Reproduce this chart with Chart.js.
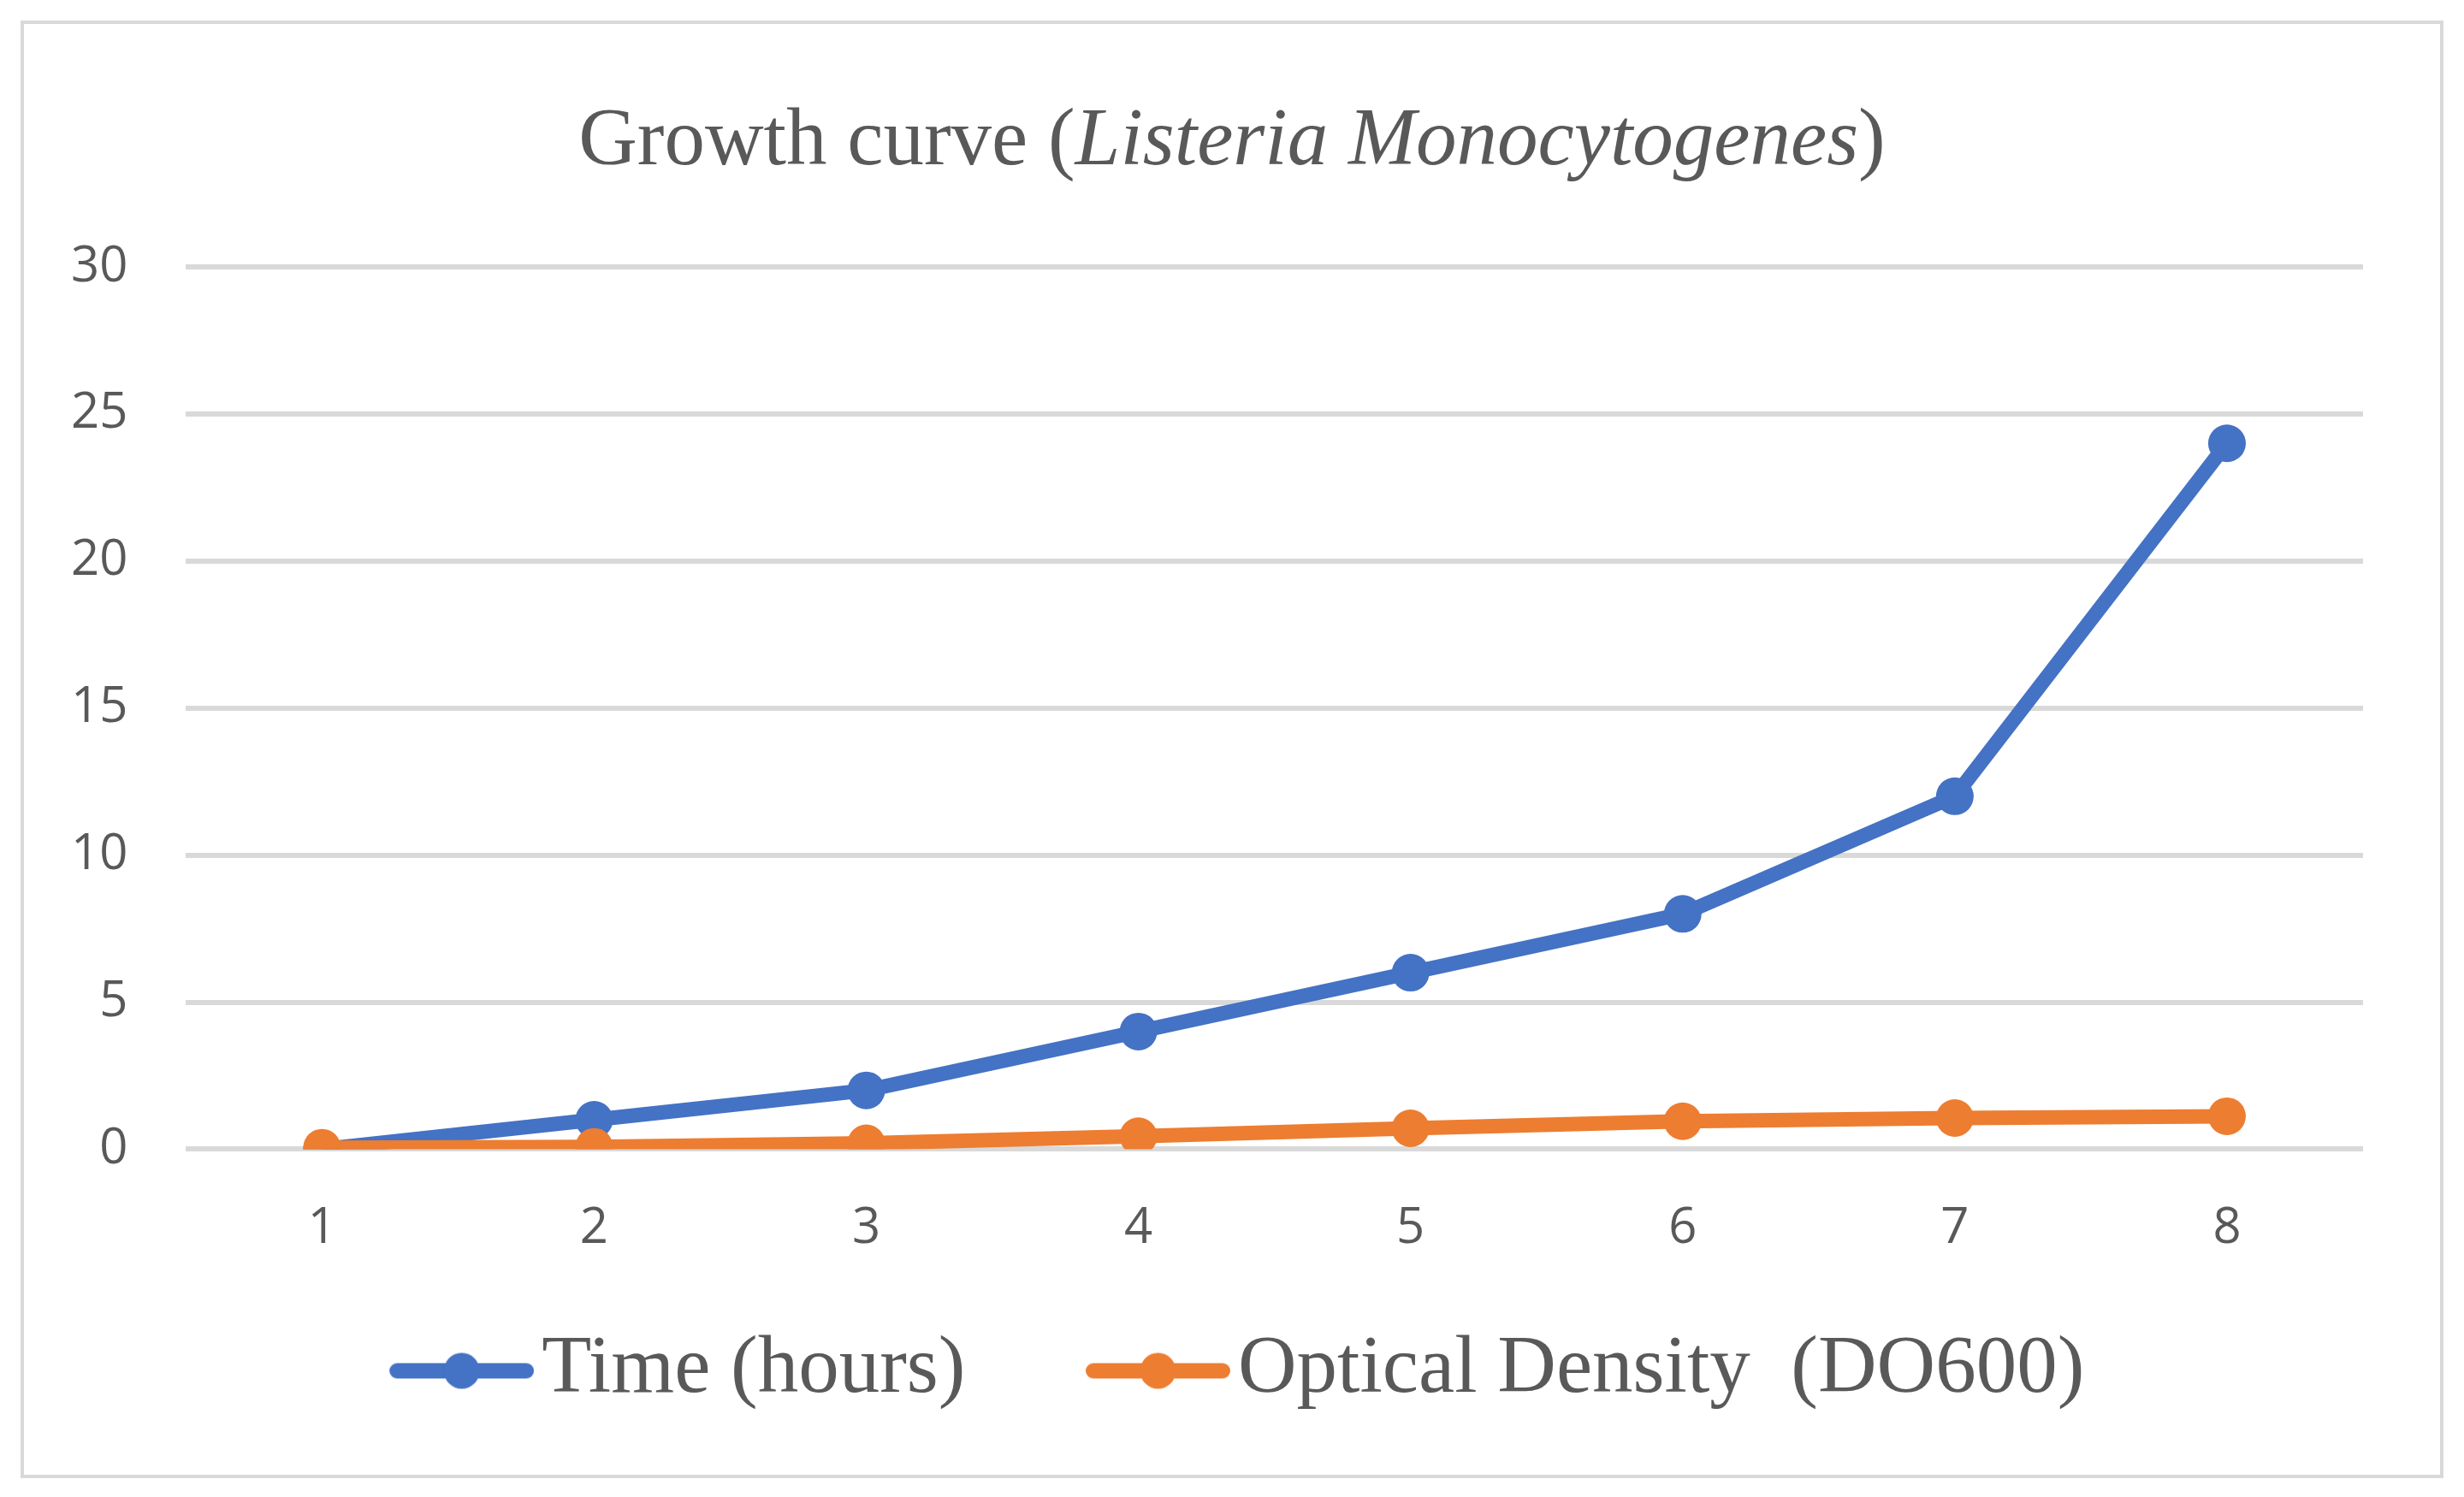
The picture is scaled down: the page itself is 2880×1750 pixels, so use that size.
<!DOCTYPE html>
<html>
<head>
<meta charset="utf-8">
<script src="https://cdn.jsdelivr.net/npm/chart.js@4.4.1/dist/chart.umd.min.js"></script>
<style>
  html, body { margin: 0; padding: 0; background: #ffffff; }
  #wrap { position: relative; width: 2880px; height: 1750px; }
</style>
</head>
<body>
<div id="wrap"><canvas id="growth-chart"></canvas></div>
<script>
// values
var categories = ["1", "2", "3", "4", "5", "6", "7", "8"];
var timeHours = [0, 1, 2, 4, 6, 8, 12, 24];
var opticalDensity = [0.05, 0.08, 0.2, 0.44, 0.71, 0.95, 1.06, 1.12];
var seriesNames = ["Time (hours)", "Optical Density  (DO600)"];
var seriesColors = ["#4472C4", "#ED7D31"];
var yMin = 0, yMax = 30, yStep = 5;

var textGrey = "#595959";
var gridGrey = "#d9d9d9";

// legend sample: a short round-capped line with a dot in the middle.
// the left part of the image is left empty so the row sits where the original does
function legendSample(color) {
    var c = document.createElement("canvas");
    c.width = 322;
    c.height = 46;
    var g = c.getContext("2d");
    var start = 153, len = 169;
    g.strokeStyle = color;
    g.lineWidth = 18;
    g.lineCap = "round";
    g.beginPath();
    g.moveTo(start + 9, 23);
    g.lineTo(start + len - 9, 23);
    g.stroke();
    g.fillStyle = color;
    g.beginPath();
    g.arc(start + len / 2, 23, 21, 0, Math.PI * 2);
    g.fill();
    return c;
}

// frame round the whole figure + title with italic species name
var framePlugin = {
    id: "frameAndTitle",
    beforeDraw: function (chart) {
        var ctx = chart.ctx;
        ctx.save();
        ctx.fillStyle = "#ffffff";
        ctx.fillRect(0, 0, chart.width, chart.height);
        ctx.strokeStyle = gridGrey;
        ctx.lineWidth = 4;
        ctx.strokeRect(26, 26, chart.width - 52, chart.height - 50);
        ctx.restore();
    },
    afterDraw: function (chart) {
        var ctx = chart.ctx;
        var parts = [
            { t: "Growth curve (", f: "95px 'Liberation Serif'" },
            { t: "Listeria Monocytogenes", f: "italic 95px 'Liberation Serif'" },
            { t: ")", f: "95px 'Liberation Serif'" }
        ];
        ctx.save();
        ctx.fillStyle = textGrey;
        ctx.textBaseline = "alphabetic";
        ctx.textAlign = "left";
        var total = 0;
        parts.forEach(function (p) {
            ctx.font = p.f;
            p.w = ctx.measureText(p.t).width;
            total += p.w;
        });
        var x = 1440 - total / 2;
        parts.forEach(function (p) {
            ctx.font = p.f;
            ctx.fillText(p.t, x, 192);
            x += p.w;
        });
        ctx.restore();
    }
};

var samples = seriesColors.map(legendSample);

new Chart("growth-chart", {
    type: "line",
    data: {
        labels: categories,
        datasets: [{
            label: seriesNames[0],
            data: timeHours,
            borderColor: seriesColors[0],
            backgroundColor: seriesColors[0],
            borderWidth: 17,
            pointRadius: 22,
            pointHoverRadius: 22,
            pointBorderWidth: 0,
            tension: 0,
            order: 1
        }, {
            label: seriesNames[1],
            data: opticalDensity,
            borderColor: seriesColors[1],
            backgroundColor: seriesColors[1],
            borderWidth: 17,
            pointRadius: 22,
            pointHoverRadius: 22,
            pointBorderWidth: 0,
            tension: 0,
            order: 0
        }]
    },
    options: {
        responsive: true,
        maintainAspectRatio: false,
        devicePixelRatio: 1,
        animation: false,
        layout: {
            padding: { top: 312, left: 15, right: 118, bottom: 90 }
        },
        scales: {
            x: {
                offset: true,
                grid: { display: false, drawTicks: false },
                border: { display: false },
                ticks: {
                    color: textGrey,
                    padding: 58,
                    font: { family: "'Open Sans'", size: 58 }
                }
            },
            y: {
                min: yMin,
                max: yMax,
                grid: { color: gridGrey, lineWidth: 6, drawTicks: false },
                border: { display: false },
                ticks: {
                    stepSize: yStep,
                    color: textGrey,
                    padding: 68,
                    font: { family: "'Open Sans'", size: 58 }
                }
            }
        },
        plugins: {
            tooltip: { enabled: false },
            title: { display: false },
            legend: {
                position: "bottom",
                labels: {
                    usePointStyle: true,
                    pointStyleWidth: 245,
                    padding: 26,
                    color: textGrey,
                    font: { family: "'Liberation Serif'", size: 95 },
                    generateLabels: function (chart) {
                        return chart.data.datasets.map(function (ds, i) {
                            return {
                                text: ds.label,
                                fillStyle: seriesColors[i],
                                strokeStyle: seriesColors[i],
                                lineWidth: 0,
                                pointStyle: samples[i],
                                hidden: false,
                                fontColor: textGrey,
                                datasetIndex: i
                            };
                        });
                    }
                }
            }
        }
    },
    plugins: [framePlugin]
});
</script>
</body>
</html>
